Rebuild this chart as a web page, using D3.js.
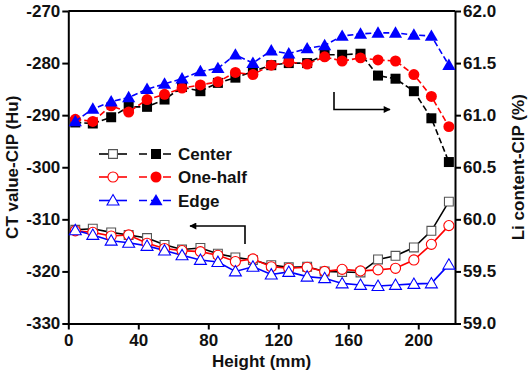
<!DOCTYPE html>
<html><head><meta charset="utf-8">
<script src="https://cdn.jsdelivr.net/npm/d3@7/dist/d3.min.js"></script>
<style>
body{margin:0;background:#fff;}
svg text{font-family:"Liberation Sans",Arial,sans-serif;font-weight:bold;}
</style></head>
<body><svg id="c" width="529" height="376"></svg>
<script>
const heights = [4, 14, 24.5, 34.5, 45, 55, 65, 75.5, 85.5, 95.5, 105.5, 116, 126, 136.5, 146.5, 156.5, 167, 177, 187, 197.5, 207.5, 217.5];
const ctCenter = [-312.0, -311.8, -312.5, -313.0, -313.6, -314.9, -315.8, -315.5, -316.6, -317.3, -317.8, -318.8, -319.2, -319.1, -320.0, -320.1, -320.2, -317.7, -317.0, -315.4, -312.2, -306.6];
const ctHalf = [-312.2, -312.5, -313.2, -313.0, -314.6, -315.6, -316.0, -316.2, -316.9, -318.1, -317.6, -319.1, -319.4, -319.2, -320.0, -319.6, -319.9, -319.7, -319.4, -317.8, -314.8, -311.2];
const ctEdge = [-312.1, -313.0, -314.1, -314.5, -315.1, -316.0, -316.9, -317.8, -318.2, -320.0, -319.1, -320.6, -320.1, -321.0, -321.3, -322.3, -322.6, -322.8, -322.6, -322.4, -322.3, -318.7];
const liCenter = [60.93, 60.92, 60.98, 61.08, 61.08, 61.15, 61.27, 61.23, 61.31, 61.36, 61.42, 61.48, 61.50, 61.50, 61.58, 61.58, 61.59, 61.38, 61.35, 61.23, 60.97, 60.55];
const liHalf = [60.96, 60.94, 61.09, 61.03, 61.15, 61.20, 61.26, 61.29, 61.32, 61.41, 61.39, 61.48, 61.51, 61.49, 61.56, 61.52, 61.55, 61.53, 61.52, 61.39, 61.18, 60.89];
const liEdge = [60.94, 61.06, 61.13, 61.17, 61.25, 61.30, 61.35, 61.42, 61.45, 61.58, 61.50, 61.62, 61.59, 61.64, 61.67, 61.76, 61.78, 61.79, 61.79, 61.77, 61.76, 61.48];
const seriesNames = ["Center", "One-half", "Edge"];
const xTicks = [0, 40, 80, 120, 160, 200];
const yLeftTicks = [-330, -320, -310, -300, -290, -280, -270];
const yRightTicks = [59.0, 59.5, 60.0, 60.5, 61.0, 61.5, 62.0];

const colors = ["#000000", "#ff0000", "#0000ff"];
const openStroke = ["#555555", "#ff0000", "#0000ff"];
const shapes = [d3.symbolSquare, d3.symbolCircle, d3.symbolTriangle];
const solidSizes = [100, 95, 75];
const openSizes = [78, 80, 62];

const L = 68.3, R = 455, T = 11, B = 323.5;
const x = d3.scaleLinear().domain([0, 221]).range([L, R]);
const yL = d3.scaleLinear().domain([-330, -270]).range([B, T]);
const yR = d3.scaleLinear().domain([59, 62]).range([B, T]);

const svg = d3.select("#c");
const fs = 17;

svg.append("line").attr("x1", L).attr("x2", R).attr("y1", T).attr("y2", T)
  .attr("stroke", "#000").attr("stroke-width", 2);

function styleAxis(g){
  g.selectAll("path.domain").attr("stroke", "#000").attr("stroke-width", 2);
  g.selectAll(".tick line").attr("stroke", "#000").attr("stroke-width", 2);
  g.selectAll("text").attr("font-size", fs).attr("fill", "#111")
    .attr("font-family", "Liberation Sans, Arial, sans-serif").attr("font-weight", "bold");
}
const gx = svg.append("g").attr("transform", `translate(0,${B})`)
  .call(d3.axisBottom(x).tickValues(xTicks).tickSize(6).tickPadding(4).tickSizeOuter(0));
styleAxis(gx);
const gl = svg.append("g").attr("transform", `translate(${L},0)`)
  .call(d3.axisLeft(yL).tickValues(yLeftTicks).tickSize(6).tickPadding(2).tickSizeOuter(0).tickFormat(d3.format("d")));
styleAxis(gl);
gl.selectAll("text").text(d => String(d).replace("−","-"));
const gr = svg.append("g").attr("transform", `translate(${R},0)`)
  .call(d3.axisRight(yR).tickValues(yRightTicks).tickSize(6).tickPadding(2).tickSizeOuter(0).tickFormat(d3.format(".1f")));
styleAxis(gr);

svg.append("text").attr("x", (L + R) / 2).attr("y", 367).attr("text-anchor", "middle")
  .attr("font-size", fs).attr("fill", "#111").text("Height (mm)");
svg.append("text").attr("transform", `translate(18,${(T + B) / 2}) rotate(-90)`)
  .attr("text-anchor", "middle").attr("font-size", fs).attr("fill", "#111").text("CT value-CIP (Hu)");
svg.append("text").attr("transform", `translate(524,${(T + B) / 2}) rotate(-90)`)
  .attr("text-anchor", "middle").attr("font-size", fs).attr("fill", "#111").text("Li content-CIP (%)");

const ctSeries = [ctCenter, ctHalf, ctEdge];
const liSeries = [liCenter, liHalf, liEdge];

ctSeries.forEach((vals, i) => {
  const pts = vals.map((v, j) => [x(heights[j]), yL(v)]);
  svg.append("path").attr("d", d3.line()(pts)).attr("fill", "none")
    .attr("stroke", colors[i]).attr("stroke-width", 1.6);
});
ctSeries.forEach((vals, i) => {
  svg.append("g").selectAll("path").data(vals).join("path")
    .attr("transform", (v, j) => `translate(${x(heights[j])},${yL(v) + (i === 2 ? 1 : 0)})`)
    .attr("d", d3.symbol().type(shapes[i]).size(openSizes[i]))
    .attr("fill", "#fff").attr("stroke", openStroke[i]).attr("stroke-width", 1.1);
});

liSeries.forEach((vals, i) => {
  const pts = vals.map((v, j) => [x(heights[j]), yR(v)]);
  svg.append("path").attr("d", d3.line()(pts)).attr("fill", "none")
    .attr("stroke", colors[i]).attr("stroke-width", 1.6).attr("stroke-dasharray", "6,3");
  svg.append("g").selectAll("path").data(vals).join("path")
    .attr("transform", (v, j) => `translate(${x(heights[j])},${yR(v) + (i === 2 ? 1 : 0)})`)
    .attr("d", d3.symbol().type(shapes[i]).size(solidSizes[i]))
    .attr("fill", colors[i]);
});

const legY = [154, 177, 200.5];
seriesNames.forEach((name, i) => {
  const g = svg.append("g");
  g.append("line").attr("x1", 99).attr("x2", 127).attr("y1", legY[i]).attr("y2", legY[i])
    .attr("stroke", colors[i]).attr("stroke-width", 1.6);
  g.append("path").attr("transform", `translate(113,${legY[i] + (i === 2 ? 1 : 0)})`)
    .attr("d", d3.symbol().type(shapes[i]).size(openSizes[i]))
    .attr("fill", "#fff").attr("stroke", openStroke[i]).attr("stroke-width", 1.1);
  g.append("line").attr("x1", 139).attr("x2", 173).attr("y1", legY[i]).attr("y2", legY[i])
    .attr("stroke", colors[i]).attr("stroke-width", 1.6).attr("stroke-dasharray", "8,4");
  g.append("path").attr("transform", `translate(156,${legY[i] + (i === 2 ? 1 : 0)})`)
    .attr("d", d3.symbol().type(shapes[i]).size(solidSizes[i]))
    .attr("fill", colors[i]);
  g.append("text").attr("x", 178).attr("y", legY[i] + 6).attr("font-size", fs)
    .attr("fill", "#111").text(name);
});

const defs = svg.append("defs");
defs.append("marker").attr("id", "ah").attr("viewBox", "0 0 10 10").attr("refX", 9).attr("refY", 5)
  .attr("markerWidth", 9).attr("markerHeight", 7).attr("markerUnits", "userSpaceOnUse")
  .attr("orient", "auto").append("path").attr("d", "M0,0 L10,5 L0,10 z").attr("fill", "#000");
svg.append("path").attr("d", "M245,244 L245,226 L190,226").attr("fill", "none")
  .attr("stroke", "#000").attr("stroke-width", 1.6).attr("marker-end", "url(#ah)");
svg.append("path").attr("d", "M334,92 L334,109.5 L390,109.5").attr("fill", "none")
  .attr("stroke", "#000").attr("stroke-width", 1.6).attr("marker-end", "url(#ah)");
</script></body></html>
